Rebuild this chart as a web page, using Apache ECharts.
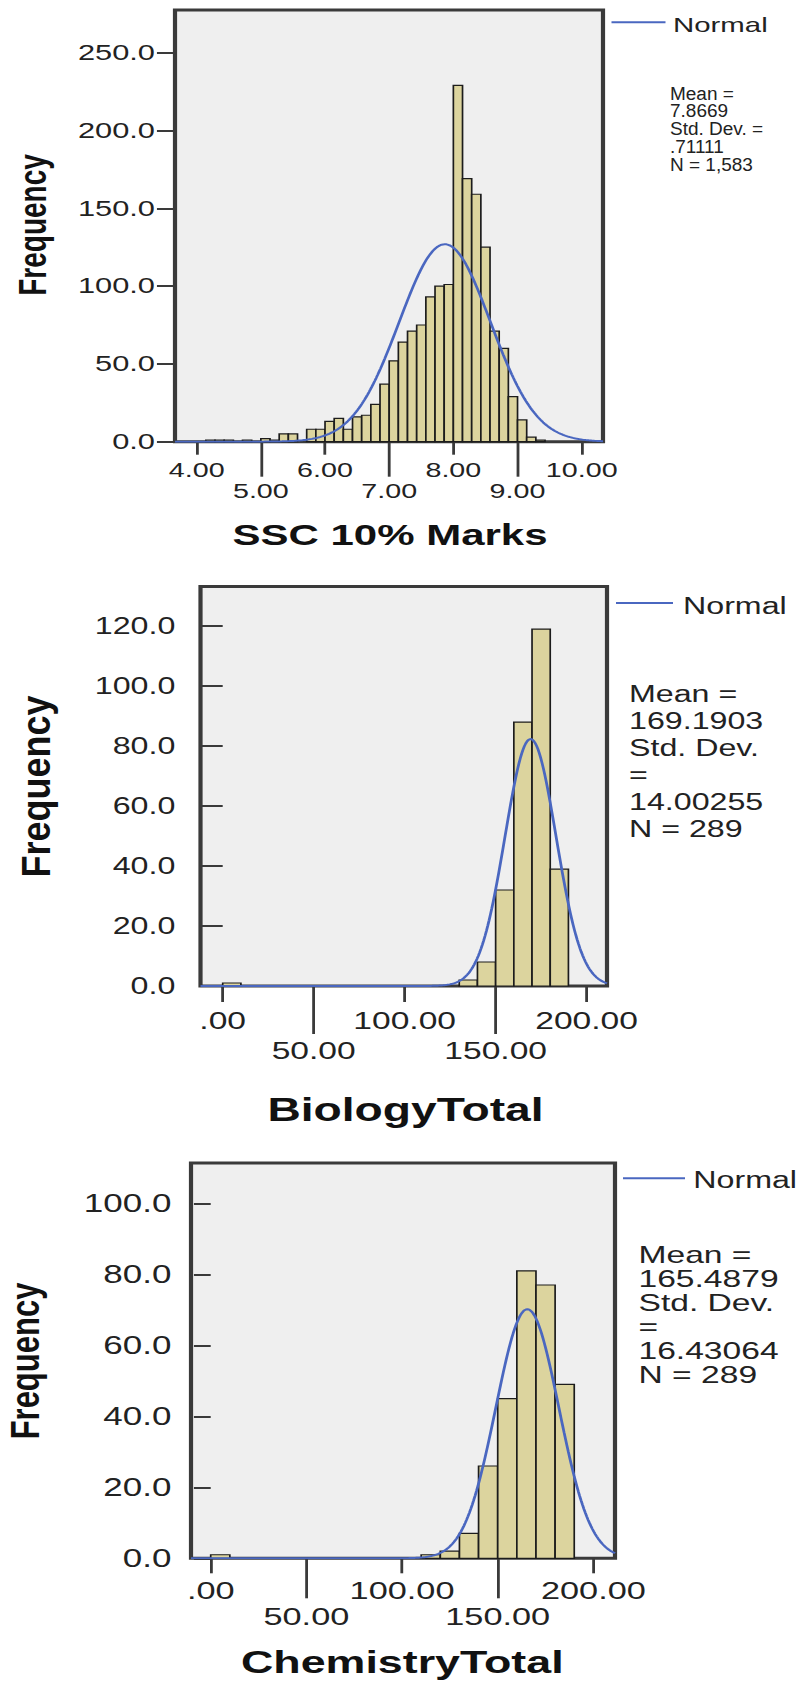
<!DOCTYPE html>
<html>
<head>
<meta charset="utf-8">
<script src="https://cdn.jsdelivr.net/npm/echarts@6/dist/echarts.min.js"></script>
<style>
  html, body { margin: 0; padding: 0; background: #ffffff; }
  #wrap { width: 804px; height: 1681px; overflow: hidden; position: relative; }
  /* the three SPSS-style panels are drawn on a narrower canvas and widened horizontally */
  #chart { width: 574.2857px; height: 1681px; transform: scaleX(1.4); transform-origin: 0 0; }
</style>
</head>
<body>
<div id="wrap"><div id="chart"></div></div>
<script>
// ---------- SSC 10% Marks ----------
const sscBinWidth = 1 / 7;
const sscFirstBin = 4 + 1 / 7;
const sscCounts = [1, 1, 1, 0, 1, 0, 2, 1, 5, 5, 0, 8, 8, 13, 15, 8, 16, 17, 24, 37,
                   52, 64, 71, 75, 93, 100, 101, 229, 169, 159, 125, 71, 60, 29, 14, 3, 1];
const sscMean = 7.8669, sscSd = 0.71111, sscN = 1583;
const sscStatLines = ['Mean =', '7.8669', 'Std. Dev. =', '.71111', 'N = 1,583'];
const sscXTicks = [4, 5, 6, 7, 8, 9, 10];
const sscXTickLabels = ['4.00', '5.00', '6.00', '7.00', '8.00', '9.00', '10.00'];
const sscYTicks = [0, 50, 100, 150, 200, 250];
const sscYTickLabels = ['0.0', '50.0', '100.0', '150.0', '200.0', '250.0'];

// ---------- BiologyTotal ----------
const bioBinWidth = 10;
const bioBinStarts = [0, 130, 140, 150, 160, 170, 180];
const bioCounts = [1, 2, 8, 32, 88, 119, 39];
const bioMean = 169.1903, bioSd = 14.00255, bioN = 289;
const bioStatLines = ['Mean =', '169.1903', 'Std. Dev.', '=', '14.00255', 'N = 289'];
const bioXTicks = [0, 50, 100, 150, 200];
const bioXTickLabels = ['.00', '50.00', '100.00', '150.00', '200.00'];
const bioYTicks = [0, 20, 40, 60, 80, 100, 120];
const bioYTickLabels = ['0.0', '20.0', '40.0', '60.0', '80.0', '100.0', '120.0'];

// ---------- ChemistryTotal ----------
const chemBinWidth = 10;
const chemBinStarts = [0, 110, 120, 130, 140, 150, 160, 170, 180];
const chemCounts = [1, 1, 2, 7, 26, 45, 81, 77, 49];
const chemMean = 165.4879, chemSd = 16.43064, chemN = 289;
const chemStatLines = ['Mean =', '165.4879', 'Std. Dev.', '=', '16.43064', 'N = 289'];
const chemXTicks = [0, 50, 100, 150, 200];
const chemXTickLabels = ['.00', '50.00', '100.00', '150.00', '200.00'];
const chemYTicks = [0, 20, 40, 60, 80, 100];
const chemYTickLabels = ['0.0', '20.0', '40.0', '60.0', '80.0', '100.0'];

// ---------- drawing ----------
const S = 1.4;                       // horizontal widening applied by CSS
const FONT = "'Liberation Sans', Arial, sans-serif";
const INK = '#222222';
const FRAME = '#3a3a3a';
const BAR_FILL = '#dcd49e';
const CURVE = '#4a67c0';

function normalCurve(mean, sd, n, bw, xMin, xMax) {
  const pts = [];
  const k = n * bw / (sd * Math.sqrt(2 * Math.PI));
  const steps = 300;
  for (let i = 0; i <= steps; i++) {
    const x = xMin + (xMax - xMin) * i / steps;
    const z = (x - mean) / sd;
    pts.push([x, k * Math.exp(-0.5 * z * z)]);
  }
  return pts;
}

function labelFor(ticks, labels, v) {
  const i = ticks.findIndex(t => Math.abs(t - v) < 1e-6);
  return i < 0 ? '' : labels[i];
}

const panels = [
  {
    bins: sscCounts.map((c, i) => [sscFirstBin + i * sscBinWidth, sscFirstBin + (i + 1) * sscBinWidth, c]),
    mean: sscMean, sd: sscSd, n: sscN, bw: sscBinWidth, stats: sscStatLines,
    xTicks: sscXTicks, xLabels: sscXTickLabels, yTicks: sscYTicks, yLabels: sscYTickLabels,
    grid: { left: 175 / S, top: 10, width: (603 - 175) / S, height: 431.7 },
    xMin: 3.662, xMax: 10.332, yMax: 277.4,
    xFont: 20.5, xLine: 20.3, xMargin: 18.2, shortTick: 13, longTick: 35,
    yFont: 22, yMargin: 14.3, yTick: 12.9,
    title: 'SSC 10% Marks', titleX: 390 / S, titleY: 535, titleSize: 30,
    freqX: 31.7 / S, freqY: 225, freqSize: 28, freqThick: 1,
    legX1: 611.5 / S, legX2: 665.5 / S, legY: 22.3, legTextX: 673 / S, legTextY: 24.8, legSize: 21,
    statX: 670 / S, statTop: 84, statSize: 19, statLine: 18, statScale: 1 / S
  },
  {
    bins: bioBinStarts.map((s, i) => [s, s + bioBinWidth, bioCounts[i]]),
    mean: bioMean, sd: bioSd, n: bioN, bw: bioBinWidth, stats: bioStatLines,
    xTicks: bioXTicks, xLabels: bioXTickLabels, yTicks: bioYTicks, yLabels: bioYTickLabels,
    grid: { left: 200.5 / S, top: 586.5, width: (607 - 200.5) / S, height: 399.5 },
    xMin: -12.2, xMax: 211.2, yMax: 133.2,
    xFont: 24, xLine: 30.2, xMargin: 19.7, shortTick: 16, longTick: 48,
    yFont: 23, yMargin: 18, yTick: 15.7,
    title: 'BiologyTotal', titleX: 405.5 / S, titleY: 1109.5, titleSize: 33,
    freqX: 36 / S, freqY: 786.5, freqSize: 36, freqThick: 0.82,
    legX1: 616 / S, legX2: 673 / S, legY: 602.9, legTextX: 683 / S, legTextY: 606.3, legSize: 23,
    statX: 629 / S, statTop: 680.8, statSize: 23, statLine: 27, statScale: 1
  },
  {
    bins: chemBinStarts.map((s, i) => [s, s + chemBinWidth, chemCounts[i]]),
    mean: chemMean, sd: chemSd, n: chemN, bw: chemBinWidth, stats: chemStatLines,
    xTicks: chemXTicks, xLabels: chemXTickLabels, yTicks: chemYTicks, yLabels: chemYTickLabels,
    grid: { left: 191 / S, top: 1162.9, width: (615 - 191) / S, height: 395.4 },
    xMin: -10.3, xMax: 211.3, yMax: 111.4,
    xFont: 24.5, xLine: 26.8, xMargin: 18.3, shortTick: 15, longTick: 40,
    yFont: 25, yMargin: 14, yTick: 12,
    title: 'ChemistryTotal', titleX: 402.3 / S, titleY: 1662, titleSize: 32,
    freqX: 25 / S, freqY: 1361, freqSize: 31, freqThick: 0.94,
    legX1: 623 / S, legX2: 685 / S, legY: 1178.3, legTextX: 693.3 / S, legTextY: 1179.9, legSize: 23,
    statX: 638.5 / S, statTop: 1242.5, statSize: 24, statLine: 24, statScale: 1
  }
];

const option = {
  animation: false,
  backgroundColor: '#ffffff',
  grid: [], xAxis: [], yAxis: [], series: [], graphic: []
};

panels.forEach((p, gi) => {
  option.grid.push(Object.assign({
    show: true, backgroundColor: '#efefef', borderColor: FRAME, borderWidth: 3, containLabel: false
  }, p.grid));

  // SPSS staggers the x labels: upper row with short ticks, lower row with long ticks
  const upperTicks = p.xTicks.filter((t, i) => i % 2 === 0);
  const lowerTicks = p.xTicks.filter((t, i) => i % 2 === 1);
  const rows = [
    { ticks: upperTicks, tickLen: p.shortTick, margin: p.xMargin },
    { ticks: lowerTicks, tickLen: p.longTick, margin: p.xMargin + p.xLine }
  ];
  rows.forEach(r => {
    option.xAxis.push({
      type: 'value', gridIndex: gi, min: p.xMin, max: p.xMax, position: 'bottom',
      axisLine: { show: false }, splitLine: { show: false },
      axisTick: { show: true, customValues: r.ticks, length: r.tickLen, lineStyle: { color: FRAME, width: 2 } },
      axisLabel: {
        show: true, customValues: r.ticks, margin: r.margin,
        showMinLabel: true, showMaxLabel: true, hideOverlap: false,
        color: INK, fontFamily: FONT, fontSize: p.xFont, lineHeight: p.xLine,
        formatter: v => labelFor(p.xTicks, p.xLabels, v)
      }
    });
  });

  option.yAxis.push({
    type: 'value', gridIndex: gi, min: 0, max: p.yMax,
    axisLine: { show: false }, splitLine: { show: false },
    axisTick: { show: true, customValues: p.yTicks, length: p.yTick, lineStyle: { color: FRAME, width: 2 } },
    axisLabel: {
      show: true, customValues: p.yTicks, margin: p.yMargin,
      showMinLabel: true, showMaxLabel: true, hideOverlap: false,
      color: INK, fontFamily: FONT, fontSize: p.yFont,
      formatter: v => labelFor(p.yTicks, p.yLabels, v)
    }
  });

  // histogram bars
  option.series.push({
    type: 'custom', name: 'Frequency', xAxisIndex: gi * 2, yAxisIndex: gi, z: 2,
    encode: { x: [0, 1], y: 2 },
    data: p.bins.filter(b => b[2] > 0),
    renderItem: (params, api) => {
      const a = api.coord([api.value(0), 0]);
      const b = api.coord([api.value(1), api.value(2)]);
      return {
        type: 'rect',
        shape: { x: a[0], y: b[1], width: b[0] - a[0], height: a[1] - b[1] },
        style: { fill: BAR_FILL, stroke: '#1c1c1c', lineWidth: 1.2 }
      };
    }
  });

  // fitted normal curve from the stated mean, SD and N
  option.series.push({
    type: 'line', name: 'Normal', xAxisIndex: gi * 2, yAxisIndex: gi, z: 3,
    symbol: 'none', smooth: false, clip: true,
    lineStyle: { color: CURVE, width: 2 },
    data: normalCurve(p.mean, p.sd, p.n, p.bw, p.xMin, p.xMax)
  });

  // axis titles
  option.graphic.push({
    type: 'text', x: p.titleX, y: p.titleY, z: 10,
    style: {
      text: p.title, fill: '#111111', font: `bold ${p.titleSize}px ${FONT}`,
      textAlign: 'center', textVerticalAlign: 'middle', align: 'center', verticalAlign: 'middle'
    }
  });
  option.graphic.push({
    type: 'text', x: p.freqX, y: p.freqY, rotation: Math.PI / 2, scaleY: p.freqThick, z: 10,
    style: {
      text: 'Frequency', fill: '#111111', font: `bold ${p.freqSize}px ${FONT}`,
      textAlign: 'center', textVerticalAlign: 'middle', align: 'center', verticalAlign: 'middle'
    }
  });

  // legend entry
  option.graphic.push({
    type: 'line', z: 10,
    shape: { x1: p.legX1, y1: p.legY, x2: p.legX2, y2: p.legY },
    style: { stroke: CURVE, lineWidth: 2 }
  });
  option.graphic.push({
    type: 'text', x: p.legTextX, y: p.legTextY, z: 10,
    style: {
      text: 'Normal', fill: INK, font: `${p.legSize}px ${FONT}`,
      textAlign: 'left', textVerticalAlign: 'middle', align: 'left', verticalAlign: 'middle'
    }
  });

  // descriptive statistics
  option.graphic.push({
    type: 'text', x: p.statX, y: p.statTop, scaleX: p.statScale, z: 10,
    style: {
      text: p.stats.join('\n'), fill: INK, font: `${p.statSize}px ${FONT}`, lineHeight: p.statLine,
      textAlign: 'left', textVerticalAlign: 'top', align: 'left', verticalAlign: 'top'
    }
  });
});

const chart = echarts.init(document.getElementById('chart'), null, { renderer: 'svg' });
chart.setOption(option);
</script>
</body>
</html>
